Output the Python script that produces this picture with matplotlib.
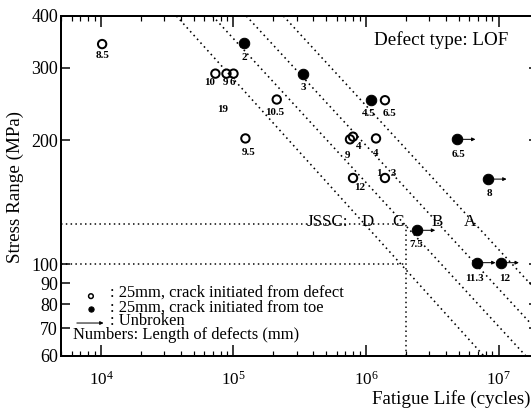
import math
import matplotlib
matplotlib.use("Agg")
import matplotlib.pyplot as plt
from matplotlib.ticker import FixedLocator, LogLocator, NullFormatter, NullLocator, FuncFormatter

plt.rcParams['font.family'] = ['Liberation Serif', 'DejaVu Serif']
plt.rcParams['mathtext.fontset'] = 'custom'
plt.rcParams['mathtext.rm'] = 'Liberation Serif'
plt.rcParams['mathtext.it'] = 'Liberation Serif:italic'
plt.rcParams['mathtext.bf'] = 'Liberation Serif:bold'

# ---------------- data ----------------
# open circles: crack initiated from defect
defect_N = [1.02e4, 7.3e4, 8.85e4, 1.0e5, 1.23e5, 2.12e5, 1.39e6, 7.57e5, 7.98e5, 1.19e6, 7.98e5, 1.39e6]
defect_S = [342, 290, 290, 290, 202, 251, 250, 201, 204, 202, 162, 162]
defect_labels = ["8.5", "10", "9", "6", "9.5", "10.5", "6.5", "9", "4", "4", "12", "1   3"]

# filled circles: crack initiated from toe
toe_N = [1.21e5, 3.33e5, 1.09e6, 4.89e6, 8.4e6, 2.43e6, 6.93e6, 1.04e7]
toe_S = [344, 290, 250, 201, 161, 121, 101, 101]
toe_labels = ["2", "3", "4.5", "6.5", "8", "7.5", "11.3", "12"]
toe_unbroken = [False, False, False, True, True, True, True, True]

# label without visible marker
extra_label_N = [8.3e4]
extra_label_S = [237]
extra_label_text = ["19"]

# JSSC design curves (at 400 MPa and 60 MPa)
jssc_classes = ["A", "B", "C", "D"]
jssc_N_at_400 = [2.38e5, 1.25e5, 6.95e4, 3.71e4]
jssc_N_at_60 = [5.52e7, 2.95e7, 1.61e7, 7.76e6]
jssc_label_N = [6.1e6, 3.44e6, 1.75e6, 1.02e6]
jssc_title_N = 5.08e5
jssc_label_S = 127
ref_stress = [125, 100]
ref_N = 2e6

x_ticks = [1e4, 1e5, 1e6, 1e7]
y_ticks = [60, 70, 80, 90, 100, 200, 300, 400]

# ---------------- layout ----------------
defect_offsets = [(0, -11), (-6, -9), (-1, -9), (-1, -9), (3, -14), (-2, -13),
                  (5, -13), (-2, -16), (6, -10), (0, -15), (7, -10), (2, 4)]
toe_offsets = [(0, -14), (1, -14), (-2, -13), (1, -15), (1, -14), (-1, -14), (-3, -16), (4, -16)]

W, H = 531, 410
fig = plt.figure(figsize=(W / 72, H / 72), dpi=72)
ax = fig.add_axes([61.1 / W, 1 - 356 / H, 477.3 / W, 340 / H])
ax.set_xscale('log')
ax.set_yscale('log')
ax.set_xlim(5e3, 2e7)
ax.set_ylim(60, 400)

dot = (0, (1, 2.2))
for n400, n60 in zip(jssc_N_at_400, jssc_N_at_60):
    ax.plot([n400, n60], [400, 60], color='black', lw=1.6, ls=dot, zorder=1)
for s in ref_stress:
    ax.plot([5e3, ref_N], [s, s], color='black', lw=1.5, ls=dot, zorder=1)
ax.plot([ref_N, ref_N], [60, max(ref_stress)], color='black', lw=1.5, ls=dot, zorder=1)

ax.text(jssc_title_N, jssc_label_S, "JSSC:", fontsize=17, ha='center', va='center', zorder=2)
for c, n in zip(jssc_classes, jssc_label_N):
    ax.text(n, jssc_label_S, c, fontsize=17, ha='center', va='center', zorder=2)

# arrows for unbroken specimens
for n, s, u in zip(toe_N, toe_S, toe_unbroken):
    if u:
        ax.annotate('', xy=(n * 1.37, s), xytext=(n, s),
                    arrowprops=dict(arrowstyle='-|>', color='black', lw=1.0,
                                    mutation_scale=7, shrinkA=0, shrinkB=0), zorder=3)

ax.scatter(defect_N, defect_S, s=70, facecolors='none', edgecolors='black', linewidths=2.0, zorder=4)
ax.scatter(toe_N, toe_S, s=110, facecolors='black', edgecolors='black', linewidths=1.0, zorder=4)

for n, s, t, (dx, dy) in zip(defect_N, defect_S, defect_labels, defect_offsets):
    ax.annotate(t, (n, s), xytext=(dx, dy), textcoords='offset points', fontsize=11,
                fontweight='bold', ha='center', va='center', zorder=5)
for n, s, t, (dx, dy) in zip(toe_N, toe_S, toe_labels, toe_offsets):
    ax.annotate(t, (n, s), xytext=(dx, dy), textcoords='offset points', fontsize=11,
                fontweight='bold', ha='center', va='center', zorder=5)
for n, s, t in zip(extra_label_N, extra_label_S, extra_label_text):
    ax.text(n, s, t, fontsize=11, fontweight='bold', ha='center', va='center')

# ticks
ax.xaxis.set_major_locator(FixedLocator(x_ticks))
ax.xaxis.set_minor_locator(LogLocator(base=10, subs=range(2, 10)))
ax.xaxis.set_minor_formatter(NullFormatter())
ax.xaxis.set_major_formatter(FuncFormatter(lambda v, p: r'$\mathdefault{10^{%d}}$' % round(math.log10(v))))
ax.yaxis.set_major_locator(FixedLocator(y_ticks))
ax.yaxis.set_minor_locator(NullLocator())
ax.yaxis.set_major_formatter(FuncFormatter(lambda v, p: '%d' % v))
ax.tick_params(axis='x', which='major', direction='in', length=11, width=1.5, top=True,
               labelsize=17, pad=15)
ax.tick_params(axis='x', which='minor', direction='in', length=5, width=1.2, top=True)
ax.tick_params(axis='y', which='major', direction='in', length=9, width=1.5, right=True,
               labelsize=18, pad=3)
for sp in ax.spines.values():
    sp.set_linewidth(2)

# legend (hand-drawn)
ax.scatter([0.0625], [0.176], s=22, facecolors='none', edgecolors='black', linewidths=1.5,
           transform=ax.transAxes, zorder=6, clip_on=False)
ax.scatter([0.0625], [0.138], s=28, facecolors='black', edgecolors='black',
           transform=ax.transAxes, zorder=6, clip_on=False)
ax.annotate('', xy=(0.089, 0.097), xytext=(0.033, 0.097), xycoords='axes fraction',
            arrowprops=dict(arrowstyle='-|>', color='black', lw=1.0, mutation_scale=7,
                            shrinkA=0, shrinkB=0))
fig.text(110 / W, 1 - 293 / H, ": 25mm, crack initiated from defect", fontsize=16.5, ha='left', va='center')
fig.text(110 / W, 1 - 308 / H, ": 25mm, crack initiated from toe", fontsize=16.5, ha='left', va='center')
fig.text(110 / W, 1 - 321 / H, ": Unbroken", fontsize=16.5, ha='left', va='center')
fig.text(73 / W, 1 - 335 / H, "Numbers: Length of defects (mm)", fontsize=16.5, ha='left', va='center')

fig.text(508 / W, 1 - 40 / H, "Defect type: LOF", fontsize=19, ha='right', va='center')
fig.text(530 / W, 1 - 399 / H, "Fatigue Life (cycles)", fontsize=19, ha='right', va='center')
fig.text(15 / W, 1 - 187 / H, "Stress Range (MPa)", fontsize=19, rotation=90, ha='center', va='center')

fig.savefig("out.png", dpi=72)
